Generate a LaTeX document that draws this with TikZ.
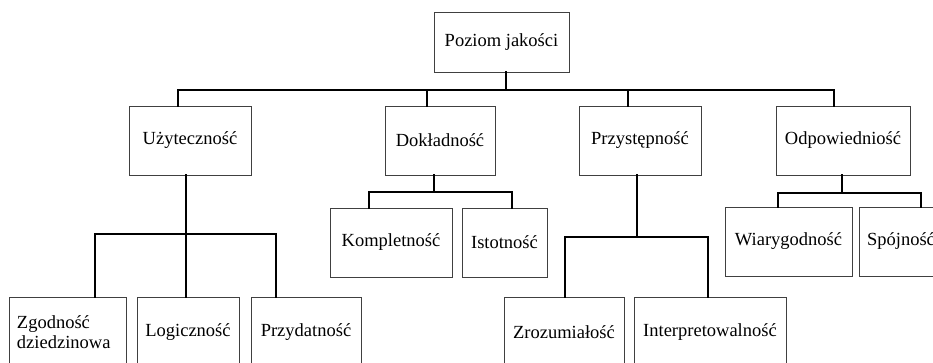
\documentclass[tikz,border=0pt]{standalone}
\usepackage{fontspec}
\setmainfont{Liberation Serif}
\begin{document}
\begin{tikzpicture}[x=1bp,y=-1bp,
  box/.style={draw=black!75,line width=0.8bp,fill=white,inner sep=0pt,
    minimum height=69bp,font=\fontsize{18.5bp}{20bp}\selectfont},
  conn/.style={draw=black,line width=2.2bp,line join=miter,line cap=rect}]
  \useasboundingbox (0,0) rectangle (933,362);
  \clip (0,0) rectangle (933,362);
  \fill[white] (0,0) rectangle (933,362);

  % root
  \node[box,minimum width=135bp,minimum height=60bp] (top) at (501.5,42) {Poziom jakości};

  % first level
  \node[box,minimum width=122bp] (uzy) at (190,140.5) {Użyteczność};
  \node[box,minimum width=110bp] (dok) at (440,140.5) {Dokładność};
  \node[box,minimum width=122bp] (prz) at (640,140.5) {Przystępność};
  \node[box,minimum width=134bp] (odp) at (843,140.5) {Odpowiedniość};

  % second level
  \node[box,minimum width=122bp] (kom) at (391,242.5) {Kompletność};
  \node[box,minimum width=85bp] (ist) at (504.5,242.5) {Istotność};
  \node[box,minimum width=127bp] (wia) at (788.5,241.5) {Wiarygodność};
  \node[box,minimum width=84bp] (spo) at (901,241.5) {Spójność};

  \node[box,minimum height=70bp,text width=101bp,inner xsep=8bp,align=left] (zgo) at (67.5,332) {Zgodność\\dziedzinowa};
  \node[box,minimum height=70bp,minimum width=102bp] (log) at (188,332) {Logiczność};
  \node[box,minimum height=70bp,minimum width=110bp] (pry) at (306,332) {Przydatność};
  \node[box,minimum height=70bp,minimum width=120bp] (zro) at (564,332) {Zrozumiałość};
  \node[box,minimum height=70bp,minimum width=152bp] (int) at (710,332) {Interpretowalność};

  % bus levels
  \coordinate (b0) at (0,90);
  \coordinate (bu) at (0,234);
  \coordinate (bd) at (0,192);
  \coordinate (bp) at (0,237);
  \coordinate (bo) at (0,193);

  % root to first level
  \draw[conn] ([xshift=4.5bp]top.south) -- ([xshift=4.5bp]top.south |- b0);
  \draw[conn] ([xshift=-12bp]uzy.north) -- ([xshift=-12bp]uzy.north |- b0)
    -- ([xshift=-9bp]odp.north |- b0) -- ([xshift=-9bp]odp.north);
  \draw[conn] ([xshift=-13bp]dok.north) -- ([xshift=-13bp]dok.north |- b0);
  \draw[conn] ([xshift=-12bp]prz.north) -- ([xshift=-12bp]prz.north |- b0);

  % Użyteczność
  \draw[conn] ([xshift=-4bp]uzy.south) -- ([xshift=-4bp]uzy.south |- bu);
  \draw[conn] ([xshift=27.5bp]zgo.north) -- ([xshift=27.5bp]zgo.north |- bu)
    -- ([xshift=-30bp]pry.north |- bu) -- ([xshift=-30bp]pry.north);
  \draw[conn] ([xshift=-2bp]log.north) -- ([xshift=-2bp]log.north |- bu);

  % Dokładność
  \draw[conn] ([xshift=-6bp]dok.south) -- ([xshift=-6bp]dok.south |- bd);
  \draw[conn] ([xshift=-22bp]kom.north) -- ([xshift=-22bp]kom.north |- bd)
    -- ([xshift=7.5bp]ist.north |- bd) -- ([xshift=7.5bp]ist.north);

  % Przystępność
  \draw[conn] ([xshift=-3bp]prz.south) -- ([xshift=-3bp]prz.south |- bp);
  \draw[conn] ([xshift=1bp]zro.north) -- ([xshift=1bp]zro.north |- bp)
    -- ([xshift=-2bp]int.north |- bp) -- ([xshift=-2bp]int.north);

  % Odpowiedniość
  \draw[conn] ([xshift=-1bp]odp.south) -- ([xshift=-1bp]odp.south |- bo);
  \draw[conn] ([xshift=-10.5bp]wia.north) -- ([xshift=-10.5bp]wia.north |- bo)
    -- ([xshift=20bp]spo.north |- bo) -- ([xshift=20bp]spo.north);
\end{tikzpicture}
\end{document}
